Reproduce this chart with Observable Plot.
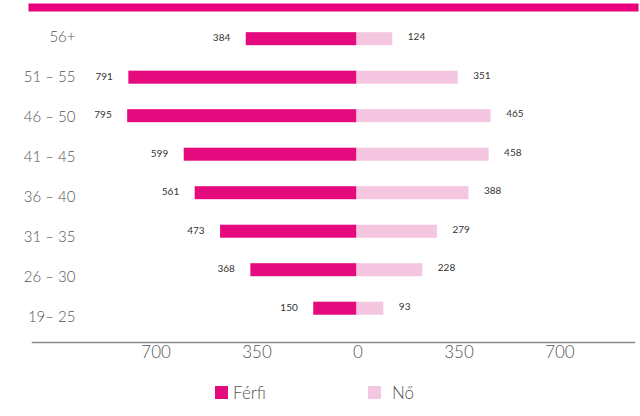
<!DOCTYPE html>
<html>
<head>
<meta charset="utf-8">
<script src="https://cdn.jsdelivr.net/npm/d3@7"></script>
<script src="https://cdn.jsdelivr.net/npm/@observablehq/plot@0.6"></script>
<style>
  body { margin: 0; background: #fff; font-family: Lato, "Open Sans", sans-serif; }
  #wrap { position: relative; width: 640px; height: 416px; }
  #chart { position: absolute; left: 0; top: 0; }
  #ylabels { position: absolute; left: 0; top: 0; }
  #legend { position: absolute; left: 0; top: 380px; width: 640px; height: 30px; }
  .item { position: absolute; top: 2px; display: flex; align-items: center; font-size: 17px; color: #555; font-weight: 300; }
  .sw { width: 13px; height: 13px; margin-right: 5px; }
</style>
</head>
<body>
<div id="wrap">
  <div id="chart"></div>
  <div id="ylabels"></div>
  <div id="legend"></div>
</div>
<script>
const ageGroups = ["56+", "51 – 55", "46 – 50", "41 – 45", "36 – 40", "31 – 35", "26 – 30", "19– 25"];
const maleValues = [384, 791, 795, 599, 561, 473, 368, 150];
const femaleValues = [124, 351, 465, 458, 388, 279, 228, 93];
const xTicks = [-700, -350, 0, 350, 700];
const seriesNames = ["Férfi", "Nő"];
const seriesColors = ["#E50A7D", "#F4C6DF"];

const rows = ageGroups.map((age, i) => ({age, male: maleValues[i], female: femaleValues[i]}));
const font = "Lato, 'Open Sans', sans-serif";

const chart = Plot.plot({
  width: 640,
  height: 370,
  marginLeft: 32,
  marginRight: 6,
  marginTop: 7,
  marginBottom: 28,
  style: {fontFamily: font, background: "transparent"},
  x: {domain: [-1125, 962], ticks: xTicks, tickFormat: d => Math.abs(d)},
  y: {domain: ageGroups, paddingInner: 0.662, paddingOuter: 0.681, align: 0.48, round: false, axis: null},
  marks: [
    Plot.barX(rows, {y: "age", x1: 0, x2: d => -d.male, fill: seriesColors[0]}),
    Plot.barX(rows, {y: "age", x1: 0, x2: "female", fill: seriesColors[1]}),
    Plot.text(rows, {y: "age", x: d => -d.male, text: d => String(d.male), textAnchor: "end", dx: -16, dy: -1, fontSize: 10, fill: "#333"}),
    Plot.text(rows, {y: "age", x: "female", text: d => String(d.female), textAnchor: "start", dx: 15, dy: -2, fontSize: 10, fill: "#333"}),
    Plot.frame({anchor: "top", stroke: "#E6007E", strokeWidth: 8, strokeOpacity: 1}),
    Plot.frame({anchor: "bottom", stroke: "#8a8a8a", strokeWidth: 1.5, strokeOpacity: 1}),
    Plot.axisX({ticks: xTicks, tickFormat: d => Math.abs(d), tickSize: 0, tickPadding: 3, dx: 1, fontSize: 17, fontWeight: 300, fill: "#555", label: null})
  ]
});
document.getElementById("chart").appendChild(chart);

// Category labels (spaced slightly wider than the bars, as in the reference)
const ylab = Plot.plot({
  width: 80,
  height: 370,
  marginLeft: 75,
  marginRight: 5,
  marginTop: 16.7,
  marginBottom: 33.3,
  style: {fontFamily: font, background: "transparent"},
  x: {axis: null},
  y: {type: "band", domain: ageGroups, padding: 0, round: false},
  marks: [
    Plot.axisY({tickSize: 0, tickPadding: 0, fontSize: 15, fontWeight: 300, fill: "#555", label: null})
  ]
});
document.getElementById("ylabels").appendChild(ylab);

const legend = document.getElementById("legend");
const legendX = [215, 368];
seriesNames.forEach((name, i) => {
  const item = document.createElement("div");
  item.className = "item";
  item.style.left = legendX[i] + "px";
  const sw = document.createElement("div");
  sw.className = "sw";
  sw.style.background = seriesColors[i];
  if (i === 1) sw.style.marginRight = "11px";
  item.appendChild(sw);
  item.appendChild(document.createTextNode(name));
  legend.appendChild(item);
});
</script>
</body>
</html>
